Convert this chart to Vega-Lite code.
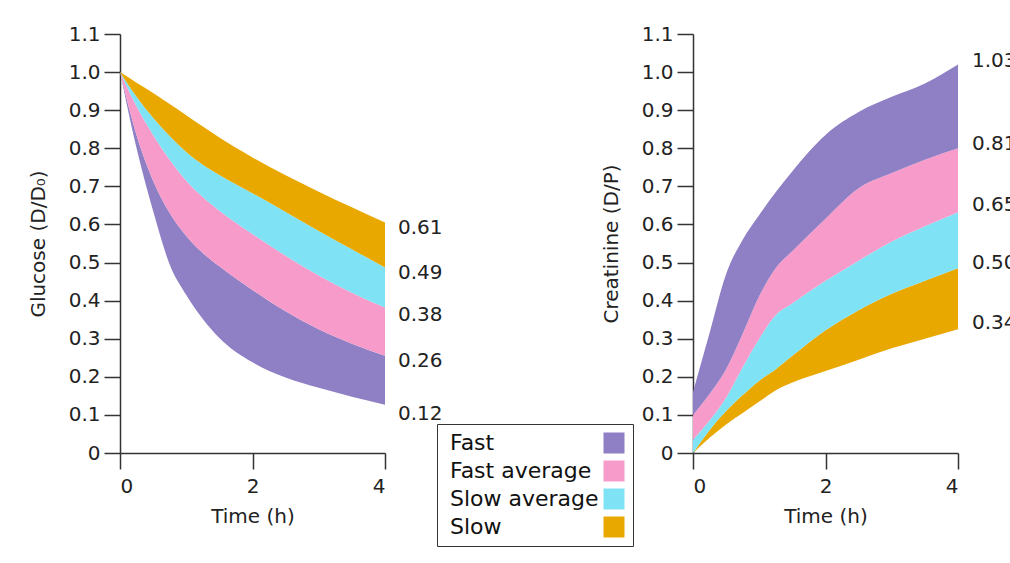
{
  "$schema": "https://vega.github.io/schema/vega-lite/v6.json",
  "background": "white",
  "padding": {"left": 28, "top": 24, "right": 0, "bottom": 0},
  "config": {
    "font": "DejaVu Sans",
    "view": {"stroke": null},
    "axis": {
      "grid": false,
      "labelFontSize": 20,
      "titleFontSize": 20,
      "titleFontWeight": "normal",
      "labelColor": "#222",
      "titleColor": "#222",
      "domainColor": "#333",
      "tickColor": "#333",
      "domainWidth": 1.5,
      "tickWidth": 1.5,
      "tickSize": 16,
      "labelOverlap": false
    }
  },
  "datasets": {
    "glucose": [
      {"group": "Fast", "t": 0, "lo": 1.0, "hi": 1.0},
      {"group": "Fast", "t": 0.25, "lo": 0.8, "hi": 0.835},
      {"group": "Fast", "t": 0.5, "lo": 0.635, "hi": 0.715},
      {"group": "Fast", "t": 0.75, "lo": 0.495, "hi": 0.63},
      {"group": "Fast", "t": 1, "lo": 0.415, "hi": 0.57},
      {"group": "Fast", "t": 1.25, "lo": 0.352, "hi": 0.525},
      {"group": "Fast", "t": 1.5, "lo": 0.302, "hi": 0.49},
      {"group": "Fast", "t": 2, "lo": 0.238, "hi": 0.428},
      {"group": "Fast", "t": 2.5, "lo": 0.198, "hi": 0.372},
      {"group": "Fast", "t": 3, "lo": 0.171, "hi": 0.325},
      {"group": "Fast", "t": 3.5, "lo": 0.148, "hi": 0.287},
      {"group": "Fast", "t": 4, "lo": 0.127, "hi": 0.255},
      {"group": "Fast average", "t": 0, "lo": 1.0, "hi": 1.0},
      {"group": "Fast average", "t": 0.25, "lo": 0.835, "hi": 0.91},
      {"group": "Fast average", "t": 0.5, "lo": 0.715, "hi": 0.835},
      {"group": "Fast average", "t": 0.75, "lo": 0.63, "hi": 0.77},
      {"group": "Fast average", "t": 1, "lo": 0.57, "hi": 0.715},
      {"group": "Fast average", "t": 1.25, "lo": 0.525, "hi": 0.672},
      {"group": "Fast average", "t": 1.5, "lo": 0.49, "hi": 0.636},
      {"group": "Fast average", "t": 2, "lo": 0.428, "hi": 0.575},
      {"group": "Fast average", "t": 2.5, "lo": 0.372, "hi": 0.518},
      {"group": "Fast average", "t": 3, "lo": 0.325, "hi": 0.466},
      {"group": "Fast average", "t": 3.5, "lo": 0.287, "hi": 0.421},
      {"group": "Fast average", "t": 4, "lo": 0.255, "hi": 0.382},
      {"group": "Slow average", "t": 0, "lo": 1.0, "hi": 1.0},
      {"group": "Slow average", "t": 0.25, "lo": 0.91, "hi": 0.935},
      {"group": "Slow average", "t": 0.5, "lo": 0.835, "hi": 0.88},
      {"group": "Slow average", "t": 0.75, "lo": 0.77, "hi": 0.832},
      {"group": "Slow average", "t": 1, "lo": 0.715, "hi": 0.79},
      {"group": "Slow average", "t": 1.25, "lo": 0.672, "hi": 0.757},
      {"group": "Slow average", "t": 1.5, "lo": 0.636, "hi": 0.73},
      {"group": "Slow average", "t": 2, "lo": 0.575, "hi": 0.682},
      {"group": "Slow average", "t": 2.5, "lo": 0.518, "hi": 0.633},
      {"group": "Slow average", "t": 3, "lo": 0.466, "hi": 0.583},
      {"group": "Slow average", "t": 3.5, "lo": 0.421, "hi": 0.535},
      {"group": "Slow average", "t": 4, "lo": 0.382, "hi": 0.487},
      {"group": "Slow", "t": 0, "lo": 1.0, "hi": 1.0},
      {"group": "Slow", "t": 0.25, "lo": 0.935, "hi": 0.972},
      {"group": "Slow", "t": 0.5, "lo": 0.88, "hi": 0.945},
      {"group": "Slow", "t": 0.75, "lo": 0.832, "hi": 0.916},
      {"group": "Slow", "t": 1, "lo": 0.79, "hi": 0.887},
      {"group": "Slow", "t": 1.25, "lo": 0.757, "hi": 0.857},
      {"group": "Slow", "t": 1.5, "lo": 0.73, "hi": 0.828},
      {"group": "Slow", "t": 2, "lo": 0.682, "hi": 0.776},
      {"group": "Slow", "t": 2.5, "lo": 0.633, "hi": 0.729},
      {"group": "Slow", "t": 3, "lo": 0.583, "hi": 0.686},
      {"group": "Slow", "t": 3.5, "lo": 0.535, "hi": 0.645},
      {"group": "Slow", "t": 4, "lo": 0.487, "hi": 0.605}
    ],
    "creatinine": [
      {"group": "Slow", "t": 0, "lo": 0, "hi": 0},
      {"group": "Slow", "t": 0.25, "lo": 0.04, "hi": 0.06},
      {"group": "Slow", "t": 0.5, "lo": 0.075, "hi": 0.11},
      {"group": "Slow", "t": 0.75, "lo": 0.105, "hi": 0.152},
      {"group": "Slow", "t": 1, "lo": 0.135, "hi": 0.19},
      {"group": "Slow", "t": 1.25, "lo": 0.165, "hi": 0.22},
      {"group": "Slow", "t": 1.5, "lo": 0.185, "hi": 0.255},
      {"group": "Slow", "t": 2, "lo": 0.215, "hi": 0.322},
      {"group": "Slow", "t": 2.5, "lo": 0.245, "hi": 0.375},
      {"group": "Slow", "t": 3, "lo": 0.275, "hi": 0.418},
      {"group": "Slow", "t": 3.5, "lo": 0.3, "hi": 0.452},
      {"group": "Slow", "t": 4, "lo": 0.325, "hi": 0.485},
      {"group": "Slow average", "t": 0, "lo": 0, "hi": 0.035},
      {"group": "Slow average", "t": 0.25, "lo": 0.06, "hi": 0.085},
      {"group": "Slow average", "t": 0.5, "lo": 0.11, "hi": 0.145},
      {"group": "Slow average", "t": 0.75, "lo": 0.152, "hi": 0.225},
      {"group": "Slow average", "t": 1, "lo": 0.19, "hi": 0.3},
      {"group": "Slow average", "t": 1.25, "lo": 0.22, "hi": 0.362},
      {"group": "Slow average", "t": 1.5, "lo": 0.255, "hi": 0.393},
      {"group": "Slow average", "t": 2, "lo": 0.322, "hi": 0.452},
      {"group": "Slow average", "t": 2.5, "lo": 0.375, "hi": 0.505},
      {"group": "Slow average", "t": 3, "lo": 0.418, "hi": 0.555},
      {"group": "Slow average", "t": 3.5, "lo": 0.452, "hi": 0.595},
      {"group": "Slow average", "t": 4, "lo": 0.485, "hi": 0.632},
      {"group": "Fast average", "t": 0, "lo": 0.035, "hi": 0.1},
      {"group": "Fast average", "t": 0.25, "lo": 0.085, "hi": 0.155},
      {"group": "Fast average", "t": 0.5, "lo": 0.145, "hi": 0.22},
      {"group": "Fast average", "t": 0.75, "lo": 0.225, "hi": 0.313},
      {"group": "Fast average", "t": 1, "lo": 0.3, "hi": 0.412},
      {"group": "Fast average", "t": 1.25, "lo": 0.362, "hi": 0.486},
      {"group": "Fast average", "t": 1.5, "lo": 0.393, "hi": 0.53},
      {"group": "Fast average", "t": 2, "lo": 0.452, "hi": 0.615},
      {"group": "Fast average", "t": 2.5, "lo": 0.505, "hi": 0.695},
      {"group": "Fast average", "t": 3, "lo": 0.555, "hi": 0.735},
      {"group": "Fast average", "t": 3.5, "lo": 0.595, "hi": 0.77},
      {"group": "Fast average", "t": 4, "lo": 0.632, "hi": 0.8},
      {"group": "Fast", "t": 0, "lo": 0.1, "hi": 0.16},
      {"group": "Fast", "t": 0.25, "lo": 0.155, "hi": 0.315},
      {"group": "Fast", "t": 0.5, "lo": 0.22, "hi": 0.47},
      {"group": "Fast", "t": 0.75, "lo": 0.313, "hi": 0.56},
      {"group": "Fast", "t": 1, "lo": 0.412, "hi": 0.625},
      {"group": "Fast", "t": 1.25, "lo": 0.486, "hi": 0.685},
      {"group": "Fast", "t": 1.5, "lo": 0.53, "hi": 0.74},
      {"group": "Fast", "t": 2, "lo": 0.615, "hi": 0.835},
      {"group": "Fast", "t": 2.5, "lo": 0.695, "hi": 0.895},
      {"group": "Fast", "t": 3, "lo": 0.735, "hi": 0.935},
      {"group": "Fast", "t": 3.5, "lo": 0.77, "hi": 0.97},
      {"group": "Fast", "t": 4, "lo": 0.8, "hi": 1.02}
    ],
    "glabels": [{"value": 0.61}, {"value": 0.49}, {"value": 0.38}, {"value": 0.26}, {"value": 0.12}],
    "clabels": [{"value": 1.03}, {"value": 0.81}, {"value": 0.65}, {"value": 0.5}, {"value": 0.34}]
  },
  "bounds": "flush",
  "spacing": 308,
  "resolve": {"scale": {"color": "shared"}},
  "hconcat": [
    {
      "width": 265,
      "height": 419,
      "layer": [
        {
          "data": {"name": "glucose"},
          "mark": {"type": "area", "interpolate": "monotone", "opacity": 1},
          "encoding": {
            "x": {"field": "t", "type": "quantitative", "scale": {"domain": [0, 4], "nice": false},
                  "axis": {"values": [0, 2, 4], "format": "d", "title": "Time (h)", "labelPadding": 7, "titlePadding": 10}},
            "y": {"field": "lo", "type": "quantitative", "scale": {"domain": [0, 1.1], "nice": false},
                  "axis": {"values": [0, 0.1, 0.2, 0.3, 0.4, 0.5, 0.6, 0.7, 0.8, 0.9, 1.0, 1.1],
                           "labelExpr": "datum.value == 0 ? '0' : format(datum.value, '.1f')",
                           "title": "Glucose (D/D₀)", "labelPadding": 4, "titlePadding": 20}},
            "y2": {"field": "hi"},
            "color": {"field": "group", "type": "nominal",
                      "scale": {"domain": ["Fast", "Fast average", "Slow average", "Slow"],
                                "range": ["#8f7fc4", "#f79cca", "#80e3f5", "#e9a800"]},
                      "legend": {"title": null, "orient": "none", "legendX": 317, "legendY": 390,
                                 "symbolType": "square", "symbolSize": 441, "symbolStrokeWidth": 0,
                                 "symbolOpacity": 1, "labelFontSize": 22, "labelColor": "#111",
                                 "labelLimit": 300, "rowPadding": 6, "padding": 8,
                                 "strokeColor": "#333", "fillColor": "white",
                                 "symbolOffset": 158, "labelOffset": -175}}
          }
        },
        {
          "data": {"name": "glabels"},
          "mark": {"type": "text", "align": "left", "baseline": "middle", "dx": 13, "dy": 7, "fontSize": 20, "color": "#222"},
          "encoding": {
            "x": {"datum": 4, "type": "quantitative", "scale": {"domain": [0, 4], "nice": false},
                  "axis": {"values": [0, 2, 4], "format": "d", "title": "Time (h)", "labelPadding": 7, "titlePadding": 10}},
            "y": {"field": "value", "type": "quantitative", "scale": {"domain": [0, 1.1], "nice": false},
                  "axis": {"values": [0, 0.1, 0.2, 0.3, 0.4, 0.5, 0.6, 0.7, 0.8, 0.9, 1.0, 1.1],
                           "labelExpr": "datum.value == 0 ? '0' : format(datum.value, '.1f')",
                           "title": "Glucose (D/D₀)", "labelPadding": 4, "titlePadding": 20}},
            "text": {"field": "value", "type": "quantitative", "format": ".2f"}
          }
        }
      ]
    },
    {
      "width": 265,
      "height": 419,
      "layer": [
        {
          "data": {"name": "creatinine"},
          "mark": {"type": "area", "interpolate": "monotone", "opacity": 1},
          "encoding": {
            "x": {"field": "t", "type": "quantitative", "scale": {"domain": [0, 4], "nice": false},
                  "axis": {"values": [0, 2, 4], "format": "d", "title": "Time (h)", "labelPadding": 7, "titlePadding": 10}},
            "y": {"field": "lo", "type": "quantitative", "scale": {"domain": [0, 1.1], "nice": false},
                  "axis": {"values": [0, 0.1, 0.2, 0.3, 0.4, 0.5, 0.6, 0.7, 0.8, 0.9, 1.0, 1.1],
                           "labelExpr": "datum.value == 0 ? '0' : format(datum.value, '.1f')",
                           "title": "Creatinine (D/P)", "labelPadding": 4, "titlePadding": 20}},
            "y2": {"field": "hi"},
            "color": {"field": "group", "type": "nominal",
                      "scale": {"domain": ["Fast", "Fast average", "Slow average", "Slow"],
                                "range": ["#8f7fc4", "#f79cca", "#80e3f5", "#e9a800"]}}
          }
        },
        {
          "data": {"name": "clabels"},
          "mark": {"type": "text", "align": "left", "baseline": "middle", "dx": 14, "dy": 0, "fontSize": 20, "color": "#222"},
          "encoding": {
            "x": {"datum": 4, "type": "quantitative", "scale": {"domain": [0, 4], "nice": false},
                  "axis": {"values": [0, 2, 4], "format": "d", "title": "Time (h)", "labelPadding": 7, "titlePadding": 10}},
            "y": {"field": "value", "type": "quantitative", "scale": {"domain": [0, 1.1], "nice": false},
                  "axis": {"values": [0, 0.1, 0.2, 0.3, 0.4, 0.5, 0.6, 0.7, 0.8, 0.9, 1.0, 1.1],
                           "labelExpr": "datum.value == 0 ? '0' : format(datum.value, '.1f')",
                           "title": "Creatinine (D/P)", "labelPadding": 4, "titlePadding": 20}},
            "text": {"field": "value", "type": "quantitative", "format": ".2f"}
          }
        }
      ]
    }
  ]
}
